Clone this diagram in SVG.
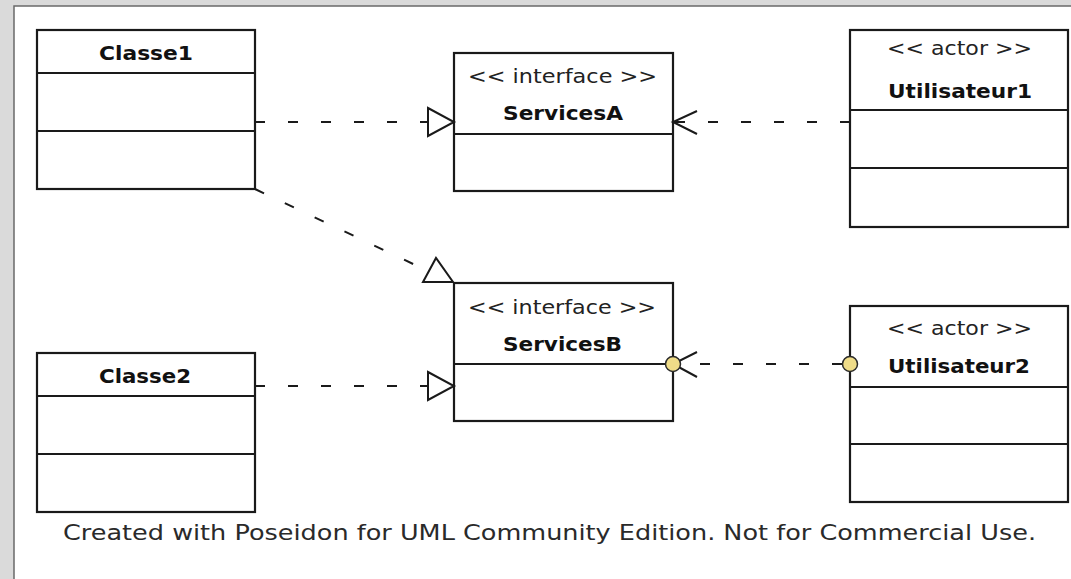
<svg xmlns="http://www.w3.org/2000/svg" width="1071" height="579" viewBox="0 0 1071 579">
<style>
.box{fill:#fff;stroke:#1a1a1a;stroke-width:2.2}
.sep{stroke:#1a1a1a;stroke-width:2.2}
.name{font-family:"DejaVu Sans","Liberation Sans",sans-serif;font-weight:bold;font-size:20px;fill:#111}
.stereo{font-family:"DejaVu Sans","Liberation Sans",sans-serif;font-size:19px;fill:#222}
.foot{font-family:"DejaVu Sans","Liberation Sans",sans-serif;font-size:22px;fill:#2a2a2a}
.dash{fill:none;stroke:#1a1a1a;stroke-width:2;stroke-dasharray:10 23}
.tri{fill:#fff;stroke:#1a1a1a;stroke-width:2;stroke-linejoin:miter}
.open{fill:none;stroke:#1a1a1a;stroke-width:2}
.ball{fill:#efdc88;stroke:#2a2a2a;stroke-width:1.5}
</style>
<rect x="0" y="0" width="1071" height="579" fill="#dadada"/>
<rect x="14" y="6" width="1060" height="580" fill="#fff" stroke="#6a6a6a" stroke-width="1.5"/>

<g id="classe1">
  <rect class="box" x="37" y="30" width="218" height="159"/>
  <line class="sep" x1="37" y1="73" x2="255" y2="73"/>
  <line class="sep" x1="37" y1="131" x2="255" y2="131"/>
  <text class="name" x="99" y="60" textLength="94" lengthAdjust="spacingAndGlyphs">Classe1</text>
</g>

<g id="classe2">
  <rect class="box" x="37" y="353" width="218" height="159"/>
  <line class="sep" x1="37" y1="396" x2="255" y2="396"/>
  <line class="sep" x1="37" y1="454" x2="255" y2="454"/>
  <text class="name" x="99" y="383" textLength="92" lengthAdjust="spacingAndGlyphs">Classe2</text>
</g>

<g id="servicesA">
  <rect class="box" x="454" y="53" width="219" height="138"/>
  <line class="sep" x1="454" y1="134" x2="673" y2="134"/>
  <text class="stereo" x="468" y="83" textLength="189" lengthAdjust="spacingAndGlyphs">&lt;&lt; interface &gt;&gt;</text>
  <text class="name" x="503" y="120" textLength="120" lengthAdjust="spacingAndGlyphs">ServicesA</text>
</g>

<g id="servicesB">
  <rect class="box" x="454" y="283" width="219" height="138"/>
  <line class="sep" x1="454" y1="364" x2="673" y2="364"/>
  <text class="stereo" x="468" y="314" textLength="188" lengthAdjust="spacingAndGlyphs">&lt;&lt; interface &gt;&gt;</text>
  <text class="name" x="503" y="351" textLength="119" lengthAdjust="spacingAndGlyphs">ServicesB</text>
</g>

<g id="utilisateur1">
  <rect class="box" x="850" y="30" width="218" height="197"/>
  <line class="sep" x1="850" y1="110" x2="1068" y2="110"/>
  <line class="sep" x1="850" y1="168" x2="1068" y2="168"/>
  <text class="stereo" x="887" y="55" textLength="145" lengthAdjust="spacingAndGlyphs">&lt;&lt; actor &gt;&gt;</text>
  <text class="name" x="888" y="98" textLength="144" lengthAdjust="spacingAndGlyphs">Utilisateur1</text>
</g>

<g id="utilisateur2">
  <rect class="box" x="850" y="306" width="218" height="196"/>
  <line class="sep" x1="850" y1="387" x2="1068" y2="387"/>
  <line class="sep" x1="850" y1="444" x2="1068" y2="444"/>
  <text class="stereo" x="887" y="335" textLength="145" lengthAdjust="spacingAndGlyphs">&lt;&lt; actor &gt;&gt;</text>
  <text class="name" x="888" y="373" textLength="142" lengthAdjust="spacingAndGlyphs">Utilisateur2</text>
</g>

<g id="connectors">
  <line class="dash" x1="255" y1="122" x2="428" y2="122"/>
  <polygon class="tri" points="428,108 454,122 428,136"/>
  <line class="dash" x1="850" y1="122" x2="673" y2="122"/>
  <polyline class="open" points="697,111 673,122 697,134"/>
  <line class="dash" x1="255" y1="189" x2="430" y2="272"/>
  <polygon class="tri" points="423,282 436,258 453,282"/>
  <line class="dash" x1="255" y1="386" x2="428" y2="386"/>
  <polygon class="tri" points="428,372 454,386 428,400"/>
  <line class="dash" x1="842" y1="364" x2="680" y2="364"/>
  <polyline class="open" points="697,352 673,364 697,377"/>
  <circle class="ball" cx="673" cy="364" r="7.5"/>
  <circle class="ball" cx="850" cy="364" r="7.5"/>
</g>

<text class="foot" x="63" y="540" textLength="973" lengthAdjust="spacingAndGlyphs">Created with Poseidon for UML Community Edition. Not for Commercial Use.</text>
</svg>
